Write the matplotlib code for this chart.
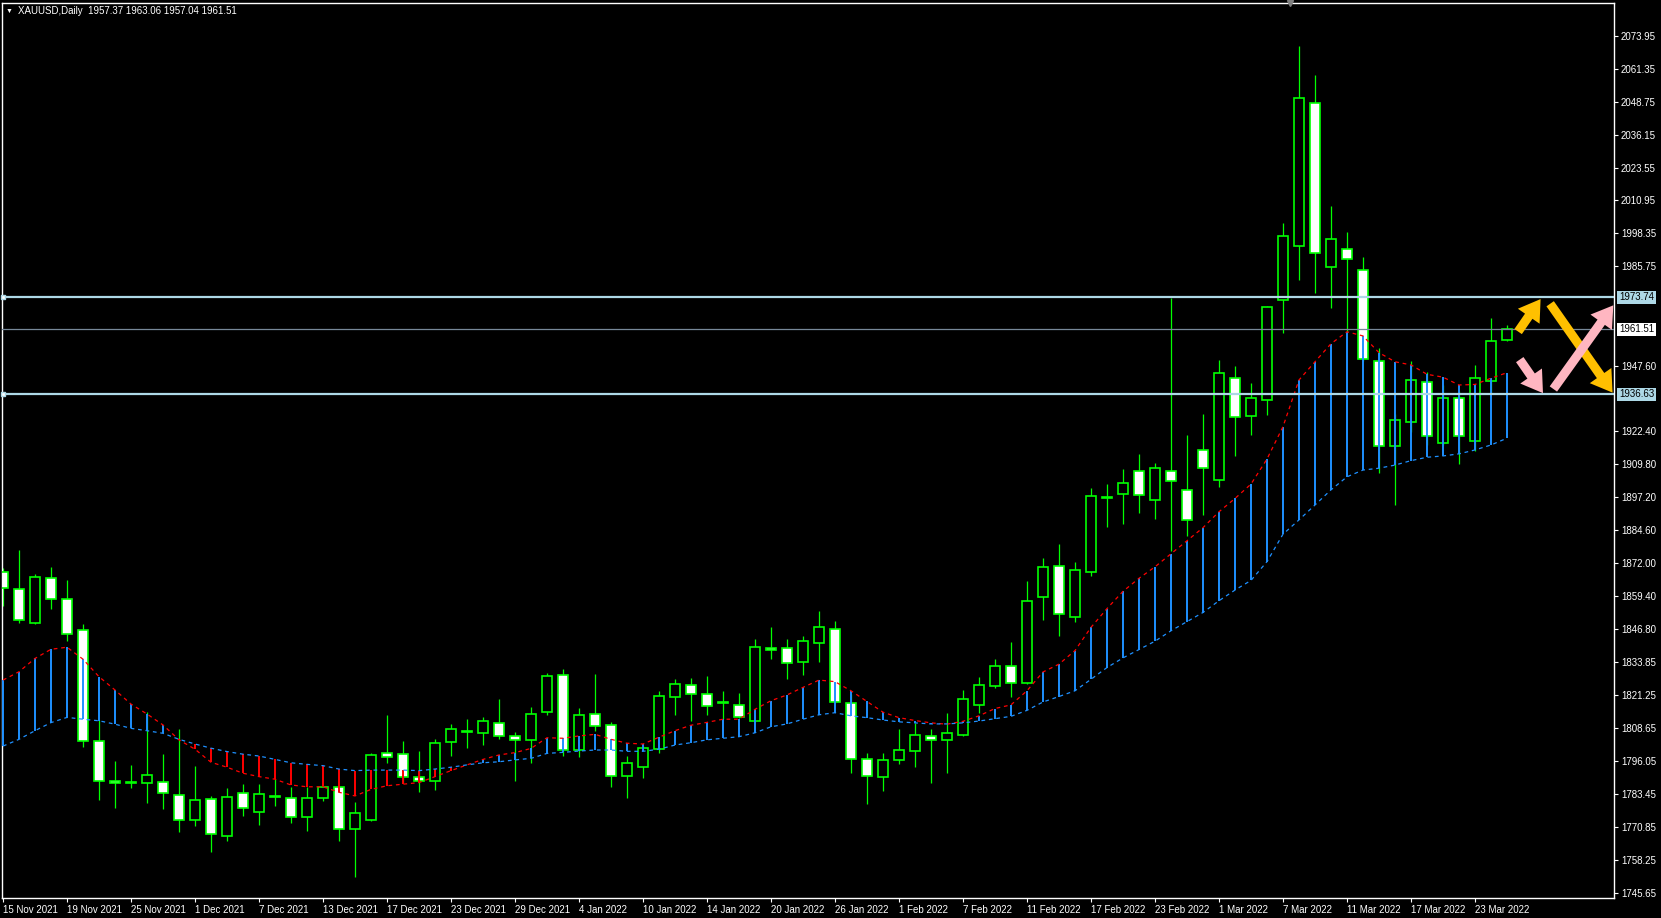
import numpy as np
import matplotlib
matplotlib.use('Agg')
import matplotlib.pyplot as plt
import matplotlib.transforms as mtransforms
from matplotlib.patches import Rectangle, FancyArrowPatch

# XAUUSD daily candles, 15 Nov 2021 .. 25 Mar 2022
opens = [1868.4, 1861.9, 1848.9, 1866.1, 1858.1, 1846.2, 1803.6, 1788.3, 1788.2, 1787.5,
         1787.9, 1782.9, 1773.6, 1781.4, 1767.2, 1783.7, 1776.4, 1782.2, 1781.8, 1774.5,
         1781.8, 1786.0, 1769.9, 1773.6, 1799.0, 1798.6, 1789.8, 1788.3, 1803.5, 1807.3,
         1806.9, 1810.5, 1805.6, 1804.0, 1814.8, 1828.9, 1800.2, 1814.0, 1809.8, 1790.2,
         1793.7, 1800.6, 1820.5, 1825.1, 1821.6, 1818.4, 1817.4, 1811.3, 1839.3, 1839.3,
         1833.9, 1841.2, 1846.6, 1818.5, 1796.7, 1789.9, 1796.3, 1800.0, 1805.5, 1804.0,
         1806.2, 1817.7, 1824.8, 1832.4, 1825.8, 1858.8, 1870.7, 1851.4, 1868.6, 1896.8,
         1898.6, 1907.1, 1896.0, 1907.3, 1899.8, 1915.2, 1903.7, 1942.8, 1928.2, 1934.3,
         1972.7, 1993.6, 2048.2, 1985.5, 1992.3, 1984.2, 1949.3, 1916.7, 1926.1, 1941.2,
         1918.1, 1935.1, 1918.9, 1941.6, 1957.37]
highs = [1870.0, 1877.0, 1867.8, 1870.4, 1865.3, 1848.6, 1811.8, 1796.1, 1794.6, 1814.7,
         1798.7, 1808.3, 1794.2, 1782.7, 1785.7, 1787.3, 1787.3, 1789.1, 1786.2, 1786.1,
         1786.3, 1786.4, 1780.4, 1799.0, 1813.7, 1803.8, 1799.9, 1804.5, 1810.3, 1812.2,
         1813.1, 1819.8, 1807.2, 1816.8, 1829.8, 1831.3, 1816.3, 1829.4, 1810.9, 1798.0,
         1801.9, 1822.9, 1827.5, 1827.9, 1828.7, 1822.9, 1822.2, 1842.8, 1847.4, 1842.8,
         1844.0, 1853.6, 1849.7, 1821.7, 1799.1, 1799.3, 1808.4, 1810.7, 1808.4, 1814.4,
         1823.3, 1828.2, 1835.2, 1841.6, 1865.0, 1873.9, 1879.2, 1872.2, 1900.8, 1902.3,
         1908.0, 1913.7, 1910.2, 1973.4, 1921.0, 1929.1, 1949.8, 1947.5, 1941.0, 1970.5,
         2002.3, 2070.1, 2059.0, 2008.8, 1998.8, 1989.3, 1954.4, 1929.1, 1949.4, 1945.2,
         1940.2, 1937.8, 1947.7, 1965.8, 1963.06]
lows = [1855.6, 1849.1, 1848.5, 1854.3, 1842.2, 1801.6, 1781.3, 1778.0, 1785.6, 1779.9,
        1777.6, 1769.0, 1771.3, 1761.3, 1765.5, 1775.1, 1771.6, 1778.9, 1772.4, 1769.4,
        1780.9, 1765.5, 1751.7, 1773.2, 1795.2, 1787.8, 1784.2, 1784.9, 1798.0, 1801.2,
        1802.3, 1804.4, 1788.5, 1795.4, 1813.6, 1797.9, 1797.7, 1807.7, 1786.0, 1782.0,
        1789.7, 1799.3, 1813.8, 1811.5, 1813.8, 1812.1, 1812.5, 1811.0, 1835.3, 1827.6,
        1829.2, 1834.2, 1818.3, 1791.3, 1779.7, 1784.7, 1795.0, 1793.9, 1787.8, 1791.5,
        1805.7, 1814.5, 1824.2, 1820.7, 1825.5, 1850.3, 1843.9, 1849.4, 1867.1, 1885.8,
        1886.9, 1891.0, 1888.9, 1876.6, 1882.3, 1890.4, 1901.0, 1913.1, 1921.2, 1928.8,
        1960.2, 1980.6, 1975.6, 1969.8, 1960.6, 1949.5, 1906.6, 1894.2, 1922.3, 1917.3,
        1917.3, 1910.0, 1915.0, 1936.7, 1957.04]
closes = [1862.3, 1850.0, 1866.5, 1858.3, 1844.9, 1803.6, 1788.3, 1787.6, 1787.6, 1790.6,
          1783.7, 1773.4, 1781.0, 1768.0, 1782.2, 1778.0, 1783.3, 1782.6, 1774.5, 1781.8,
          1786.0, 1769.9, 1776.0, 1798.3, 1797.5, 1790.1, 1788.3, 1802.9, 1808.2, 1807.7,
          1811.3, 1805.6, 1804.0, 1814.0, 1828.6, 1800.4, 1813.6, 1809.4, 1790.2, 1795.2,
          1801.0, 1820.9, 1825.5, 1821.6, 1817.0, 1818.8, 1812.8, 1839.7, 1838.5, 1833.5,
          1842.0, 1847.3, 1818.6, 1796.7, 1790.2, 1796.3, 1800.2, 1805.9, 1804.0, 1807.0,
          1819.7, 1825.1, 1832.4, 1825.8, 1857.6, 1870.4, 1852.6, 1869.1, 1897.5, 1897.4,
          1902.6, 1897.9, 1908.3, 1903.3, 1888.3, 1908.3, 1944.7, 1927.8, 1935.1, 1970.0,
          1997.2, 2050.1, 1990.7, 1996.0, 1988.3, 1950.0, 1916.9, 1926.7, 1942.0, 1920.5,
          1935.1, 1920.5, 1942.8, 1956.9, 1961.51]

# indicator lines (red = fast, blue = slow)
red_line = [1827.1, 1830.3, 1835.4, 1838.9, 1839.7, 1835.1, 1828.4, 1823.3, 1817.9, 1814.1,
            1809.9, 1804.2, 1800.6, 1795.6, 1793.7, 1791.4, 1790.1, 1789.1, 1786.9, 1786.2,
            1786.2, 1784.1, 1782.7, 1785.2, 1786.6, 1787.2, 1787.8, 1790.1, 1792.4, 1794.6,
            1796.7, 1798.4, 1799.3, 1800.9, 1805.0, 1804.8, 1805.7, 1806.3, 1804.4, 1802.9,
            1802.6, 1805.2, 1807.7, 1809.8, 1810.9, 1812.1, 1812.1, 1815.9, 1819.2, 1821.4,
            1824.3, 1827.1, 1826.5, 1823.0, 1818.9, 1814.8, 1812.7, 1811.6, 1810.7, 1810.2,
            1811.3, 1813.4, 1816.2, 1817.6, 1823.0, 1830.2, 1833.2, 1838.4, 1847.3, 1854.5,
            1861.1, 1866.1, 1870.5, 1875.5, 1880.5, 1885.5, 1891.6, 1896.7, 1902.2, 1911.8,
            1924.2, 1942.1, 1949.1, 1956.0, 1960.6, 1959.0, 1952.6, 1949.1, 1947.9, 1944.3,
            1943.2, 1940.2, 1940.4, 1942.8, 1944.9]
blue_line = [1801.8, 1804.4, 1807.7, 1810.8, 1812.8, 1812.1, 1811.5, 1810.2, 1808.6, 1807.7,
             1806.7, 1804.4, 1802.6, 1801.0, 1799.7, 1798.7, 1798.0, 1796.7, 1795.4, 1794.8,
             1794.3, 1793.0, 1792.4, 1792.6, 1792.6, 1792.6, 1792.4, 1793.0, 1793.7, 1794.6,
             1795.4, 1795.8, 1796.5, 1797.1, 1799.0, 1799.4, 1799.9, 1800.3, 1800.3, 1799.8,
             1799.8, 1800.6, 1802.2, 1803.1, 1804.2, 1804.8, 1805.4, 1806.9, 1809.2, 1810.3,
             1812.1, 1813.8, 1814.6, 1813.4, 1812.7, 1811.8, 1811.1, 1810.7, 1810.3, 1810.3,
             1810.7, 1811.4, 1812.3, 1813.2, 1815.5, 1818.7, 1820.8, 1823.0, 1827.4, 1831.9,
             1835.6, 1838.8, 1842.0, 1846.0, 1849.5, 1853.0, 1857.5, 1861.6, 1865.3, 1872.5,
             1883.0, 1888.5, 1894.2, 1900.0, 1905.0, 1907.6, 1908.3, 1909.5, 1911.2, 1912.5,
             1913.0, 1913.8, 1915.3, 1917.2, 1919.8]

date_labels = ['15 Nov 2021', '19 Nov 2021', '25 Nov 2021', '1 Dec 2021', '7 Dec 2021',
               '13 Dec 2021', '17 Dec 2021', '23 Dec 2021', '29 Dec 2021', '4 Jan 2022',
               '10 Jan 2022', '14 Jan 2022', '20 Jan 2022', '26 Jan 2022', '1 Feb 2022',
               '7 Feb 2022', '11 Feb 2022', '17 Feb 2022', '23 Feb 2022', '1 Mar 2022',
               '7 Mar 2022', '11 Mar 2022', '17 Mar 2022', '23 Mar 2022']
price_ticks = [2073.95, 2061.35, 2048.75, 2036.15, 2023.55, 2010.95, 1998.35, 1985.75,
               1947.60, 1922.40, 1909.80, 1897.20, 1884.60, 1872.00, 1859.40, 1846.80,
               1833.85, 1821.25, 1808.65, 1796.05, 1783.45, 1770.85, 1758.25, 1745.65]

level_top = 1973.74
level_bottom = 1936.63
last_price = 1961.51
title = 'XAUUSD,Daily  1957.37 1963.06 1957.04 1961.51'

# hand-drawn arrows: (bar_from, price_from, bar_to, price_to)
yellow_arrows = [(94.6, 1959.8, 96.2, 1974.0), (96.6, 1972.2, 100.7, 1936.4)]
pink_arrows = [(94.7, 1950.8, 96.35, 1936.2), (96.8, 1937.8, 100.75, 1971.6)]

W, H = 1661, 918
plt.rcParams['font.family'] = ['Liberation Sans', 'DejaVu Sans']

fig = plt.figure(figsize=(W / 100, H / 100), dpi=100, facecolor='black')
ax = fig.add_axes([2 / W, 1 - 898 / H, (1614 - 2) / W, (898 - 3) / H], facecolor='black')

n = len(opens)
x = np.arange(n)
green = '#00FF00'

# wicks and bodies
ax.vlines(x, lows, highs, color=green, lw=0.9, zorder=2)
for i in range(n):
    o, c = opens[i], closes[i]
    bottom = min(o, c)
    height = max(abs(c - o), 0.15)
    face = 'white' if c < o else 'black'
    ax.add_patch(Rectangle((i - 0.3, bottom), 0.6, height, facecolor=face,
                           edgecolor=green, lw=1.2, zorder=3))

# indicator hatch between the two lines
red_arr = np.array(red_line)
blue_arr = np.array(blue_line)
hatch_colors = ['#1E90FF' if r >= b else '#FF0000' for r, b in zip(red_arr, blue_arr)]
ax.vlines(x, blue_arr, red_arr, colors=hatch_colors, lw=1.4, zorder=4)
ax.plot(x, red_arr, color='#FF0000', lw=0.9, ls=(0, (3, 3)), zorder=5)
ax.plot(x, blue_arr, color='#1E90FF', lw=0.9, ls=(0, (3, 3)), zorder=5)

# horizontal levels
for lvl in (level_top, level_bottom):
    ax.axhline(lvl, color='#ADD8E6', lw=1.6, zorder=6)
    ax.plot([0.0], [lvl], marker='s', ms=3, mfc='white', mec='#ADD8E6', zorder=7, clip_on=False)
ax.axhline(last_price, color='#778899', lw=0.9, zorder=6)

# arrows
arrow_style = 'simple,head_width=19,head_length=15,tail_width=6.5'
for (x0, y0, x1, y1) in yellow_arrows:
    ax.add_patch(FancyArrowPatch((x0, y0), (x1, y1), arrowstyle=arrow_style,
                                 color='#FFC000', mutation_scale=1, zorder=8, lw=0))
for (x0, y0, x1, y1) in pink_arrows:
    ax.add_patch(FancyArrowPatch((x0, y0), (x1, y1), arrowstyle=arrow_style,
                                 color='#FFB6C1', mutation_scale=1, zorder=9, lw=0))

ax.set_xlim(-0.0625, 100.69)
ax.set_ylim(1743.58, 2086.6)

# axes styling
for s in ax.spines.values():
    s.set_color('white')
    s.set_linewidth(1)

ax.yaxis.tick_right()
ax.set_yticks(price_ticks)
ax.set_yticklabels([f'{p:.2f}' for p in price_ticks])
ax.tick_params(axis='y', colors='white', labelsize=7, length=3, width=0.8, pad=2)

ax.set_xticks(range(0, n, 4))
ax.set_xticklabels(date_labels)
ax.tick_params(axis='x', colors='white', labelsize=7, length=3, width=0.8, pad=2)
for lbl in ax.get_xticklabels():
    lbl.set_ha('left')

# price tags for levels on the axis
trans = mtransforms.blended_transform_factory(ax.transAxes, ax.transData)
for lvl, bg in ((level_top, '#ADD8E6'), (last_price, 'white'), (level_bottom, '#ADD8E6')):
    ax.text(1.0 + 5 / 1612, lvl, f'{lvl:.2f}', transform=trans, ha='left', va='center',
            fontsize=7, color='black', clip_on=False, zorder=10,
            bbox=dict(facecolor=bg, edgecolor='none', pad=1.2))

# chart header
fig.text(6 / W, 1 - 11 / H, '\u25bc', color='white', fontsize=5, va='center', ha='left')
fig.text(18 / W, 1 - 11 / H, title, color='white', fontsize=7, va='center', ha='left')

# chart shift marker
shift_trans = mtransforms.blended_transform_factory(ax.transData, ax.transAxes)
ax.plot([80.44], [1.0], marker='v', ms=5, color='#808080', transform=shift_trans,
        clip_on=False, zorder=10)

fig.savefig('out.png', dpi=100, facecolor='black')
